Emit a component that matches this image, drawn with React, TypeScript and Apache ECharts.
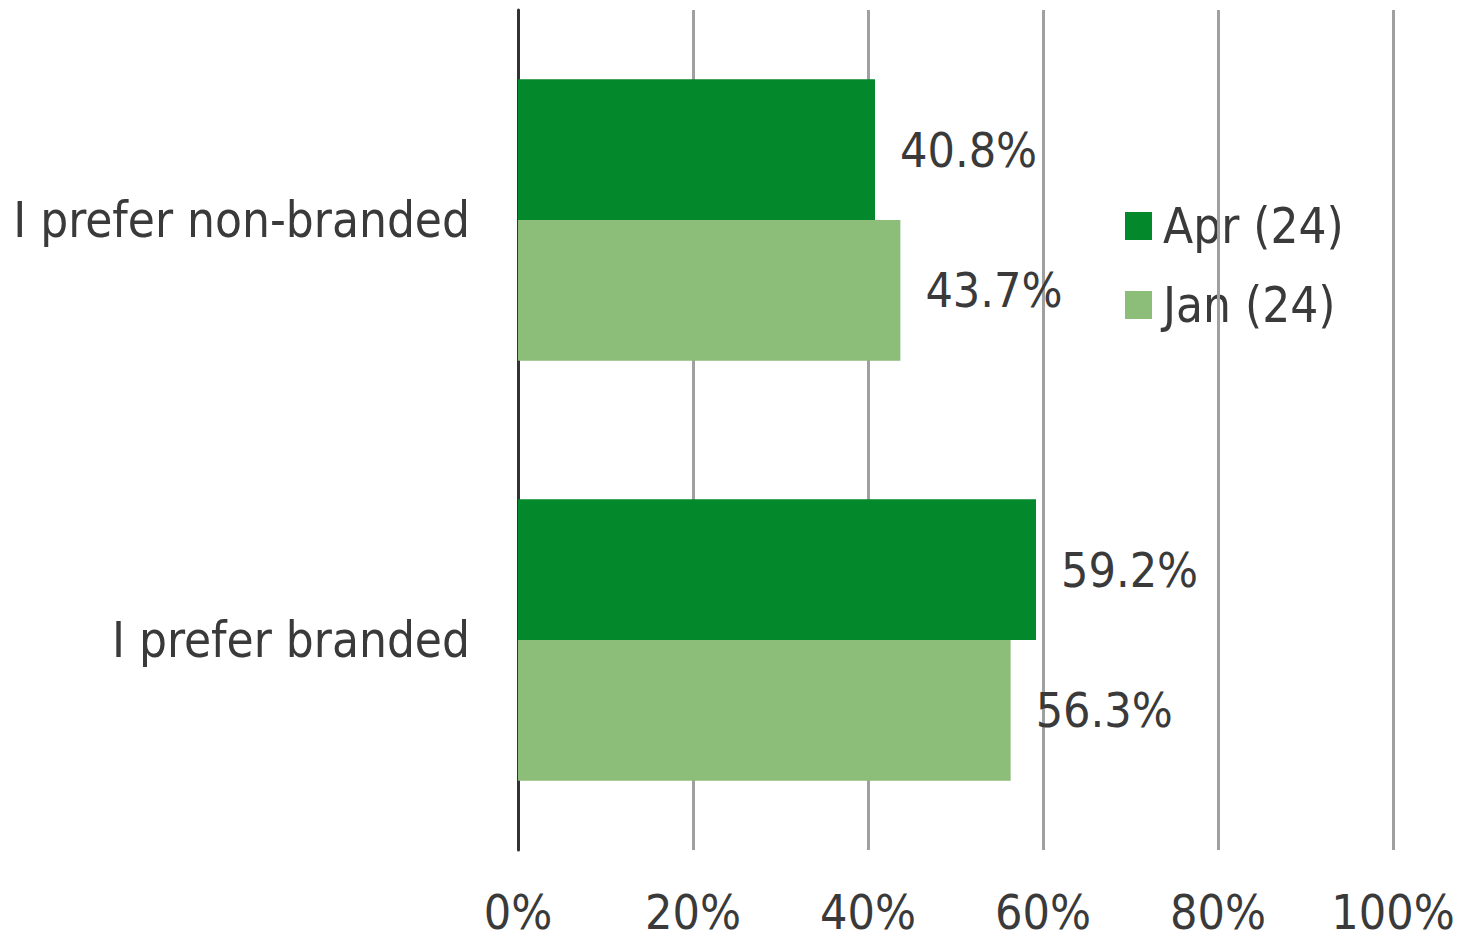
import React, { useEffect, useRef } from "react";
import * as echarts from "echarts";

const categories = ["I prefer non-branded", "I prefer branded"];
const seriesNames = ["Apr (24)", "Jan (24)"];
const aprValues = [40.8, 59.2];
const janValues = [43.7, 56.3];
const xTicks = [0, 20, 40, 60, 80, 100];

const FONT = "'DejaVu Sans Condensed', 'DejaVu Sans', sans-serif";
const TEXT = "#3a3a3a";

export default function App() {
  const ref = useRef<HTMLDivElement>(null);
  useEffect(() => {
    document.body.style.margin = "0";
    const chart = echarts.init(ref.current!, null, { renderer: "svg" });
    const label = {
      show: true,
      position: "right",
      distance: 25,
      color: TEXT,
      fontFamily: FONT,
      fontSize: 48,
      formatter: (p: any) => p.value.toFixed(1) + "%",
    };
    chart.setOption({
      animation: false,
      textStyle: { fontFamily: FONT },
      grid: { left: 518, right: 83, top: 10, bottom: 89, containLabel: false },
      legend: {
        z: -1,
        orient: "vertical",
        left: 1120,
        top: 196,
        itemWidth: 27,
        itemHeight: 28,
        itemGap: 29,
        icon: "rect",
        textStyle: {
          color: TEXT,
          fontSize: 49,
          lineHeight: 50,
          fontFamily: FONT,
          padding: [0, 0, 0, 6],
        },
        data: seriesNames,
      },
      xAxis: {
        type: "value",
        min: xTicks[0],
        max: xTicks[xTicks.length - 1],
        interval: 20,
        axisLine: { show: false },
        axisTick: { show: false },
        axisLabel: {
          color: TEXT,
          fontSize: 48,
          lineHeight: 48,
          fontFamily: FONT,
          margin: 38,
          formatter: (v: number) => v + "%",
        },
        splitLine: { show: true, lineStyle: { color: "#a0a0a0", width: 3 } },
      },
      yAxis: {
        type: "category",
        inverse: true,
        data: categories,
        axisLine: { show: true, lineStyle: { color: "#333333", width: 3 } },
        axisTick: { show: false },
        axisLabel: { color: TEXT, fontSize: 49, fontFamily: FONT, margin: 48 },
      },
      series: [
        {
          name: seriesNames[0],
          type: "bar",
          data: aprValues,
          barGap: "0%",
          barCategoryGap: "33%",
          itemStyle: { color: "#03882b" },
          label,
        },
        {
          name: seriesNames[1],
          type: "bar",
          data: janValues,
          barGap: "0%",
          barCategoryGap: "33%",
          itemStyle: { color: "#8cbd79" },
          label,
        },
      ],
    });
    return () => chart.dispose();
  }, []);
  return <div ref={ref} style={{ width: 1476, height: 939 }} />;
}
